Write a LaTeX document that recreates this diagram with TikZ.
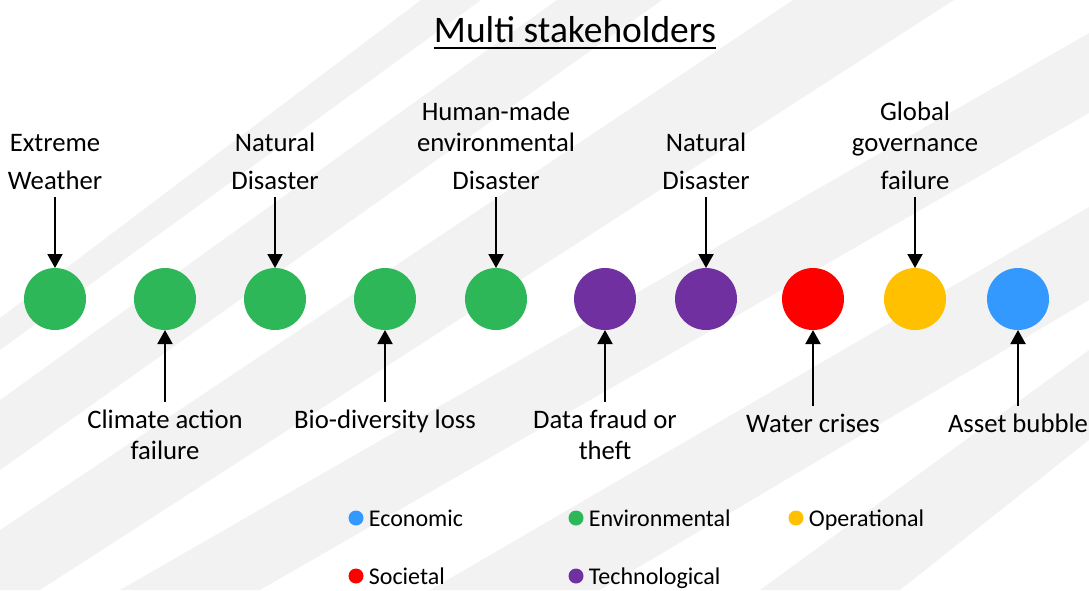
\documentclass[tikz,border=0pt]{standalone}
\usepackage{fontspec}
\setmainfont{Carlito}
\usetikzlibrary{positioning, arrows.meta}

\definecolor{envgreen}{RGB}{46,183,89}
\definecolor{techpurple}{RGB}{112,48,160}
\definecolor{socred}{RGB}{255,0,0}
\definecolor{opyellow}{RGB}{255,192,0}
\definecolor{econblue}{RGB}{51,153,255}
\definecolor{stripegray}{RGB}{242,242,242}

\begin{document}
\begin{tikzpicture}[x=1pt, y=-1pt,
    risk/.style={circle, minimum size=62pt, inner sep=0pt, outer sep=0pt},
    toplabel/.style={align=center, font=\fontsize{26.7}{31}\selectfont, inner xsep=0pt, inner ysep=7pt, outer sep=0pt},
    bottomlabel/.style={align=center, font=\fontsize{26.7}{31}\selectfont, inner xsep=0pt, inner ysep=8pt, outer sep=0pt},
    legenddot/.style={circle, minimum size=15pt, inner sep=0pt},
    legendtext/.style={anchor=base west, font=\fontsize{24}{28}\selectfont, inner sep=0pt},
    stripe/.style={fill=stripegray, draw=none},
    link/.style={draw, black, line width=2pt, -{Triangle[width=15pt, length=14pt]}}]

    \clip (0,0) rectangle (1089,590);

    % Background stripes
    \path[stripe] (421,0) -- (481,0) -- (0,350) -- (0,318) -- cycle;
    \path[stripe] (557,0) -- (662,0) -- (0,470) -- (0,400) -- cycle;
    \path[stripe] (793,0) -- (954,0) -- (40,590) -- (0,590) -- (0,530) -- cycle;
    \path[stripe] (1089,33) -- (1089,113) -- (260,590) -- (120,590) -- cycle;
    \path[stripe] (1089,207) -- (1089,300) -- (600,590) -- (430,590) -- cycle;
    \path[stripe] (1089,350) -- (1089,440) -- (900,590) -- (760,590) -- cycle;

    % Title
    \node[font=\fontsize{37.5}{44}\selectfont, inner sep=0pt, anchor=base] (title) at (575,42) {Multi stakeholders};
    \draw[line width=2pt] ([yshift=-6pt]title.base west) -- ([yshift=-6pt]title.base east);

    % Risks in a row
    \node[risk, fill=envgreen] (c1) at (55,299) {};
    \node[risk, fill=envgreen] (c2) at (165,299) {};
    \node[risk, fill=envgreen] (c3) at (275,299) {};
    \node[risk, fill=envgreen] (c4) at (385,299) {};
    \node[risk, fill=envgreen] (c5) at (496,299) {};
    \node[risk, fill=techpurple] (c6) at (605,299) {};
    \node[risk, fill=techpurple] (c7) at (706,299) {};
    \node[risk, fill=socred] (c8) at (813,299) {};
    \node[risk, fill=opyellow] (c9) at (915,299) {};
    \node[risk, fill=econblue] (c10) at (1018,299) {};

    % Labels above the row
    \node[toplabel, above=71pt of c1] (t1) {Extreme\\[7pt]Weather};
    \node[toplabel, above=71pt of c3] (t3) {Natural\\[7pt]Disaster};
    \node[toplabel, above=71pt of c5] (t5) {Human-made\\environmental\\[7pt]Disaster};
    \node[toplabel, above=71pt of c7] (t7) {Natural\\[7pt]Disaster};
    \node[toplabel, above=71pt of c9] (t9) {Global\\governance\\[7pt]failure};

    % Labels below the row
    \node[bottomlabel, below=72pt of c2] (b2) {Climate action\\failure};
    \node[bottomlabel, below=72pt of c4] (b4) {Bio-diversity loss};
    \node[bottomlabel, below=72pt of c6] (b6) {Data fraud or\\theft};
    \node[bottomlabel, below=76pt of c8] (b8) {Water crises};
    \node[bottomlabel, below=76pt of c10] (b10) {Asset bubble};

    % Arrows to the risks
    \draw[link] (t1) -- (c1);
    \draw[link] (t3) -- (c3);
    \draw[link] (t5) -- (c5);
    \draw[link] (t7) -- (c7);
    \draw[link] (t9) -- (c9);
    \draw[link] (b2) -- (c2);
    \draw[link] (b4) -- (c4);
    \draw[link] (b6) -- (c6);
    \draw[link] (b8) -- (c8);
    \draw[link] (b10) -- (c10);

    % Legend
    \node[legenddot, fill=econblue] (d1) at (356,518) {};
    \node[legenddot, fill=envgreen] (d2) at (576,518) {};
    \node[legenddot, fill=opyellow] (d3) at (796,518) {};
    \node[legenddot, fill=socred] (d4) at (356,576) {};
    \node[legenddot, fill=techpurple] (d5) at (576,576) {};
    \node[legendtext] (l1) at ([xshift=5pt, yshift=-8pt]d1.east) {Economic};
    \node[legendtext] (l2) at ([xshift=5pt, yshift=-8pt]d2.east) {Environmental};
    \node[legendtext] (l3) at ([xshift=5pt, yshift=-8pt]d3.east) {Operational};
    \node[legendtext] (l4) at ([xshift=5pt, yshift=-8pt]d4.east) {Societal};
    \node[legendtext] (l5) at ([xshift=5pt, yshift=-8pt]d5.east) {Technological};

\end{tikzpicture}
\end{document}
